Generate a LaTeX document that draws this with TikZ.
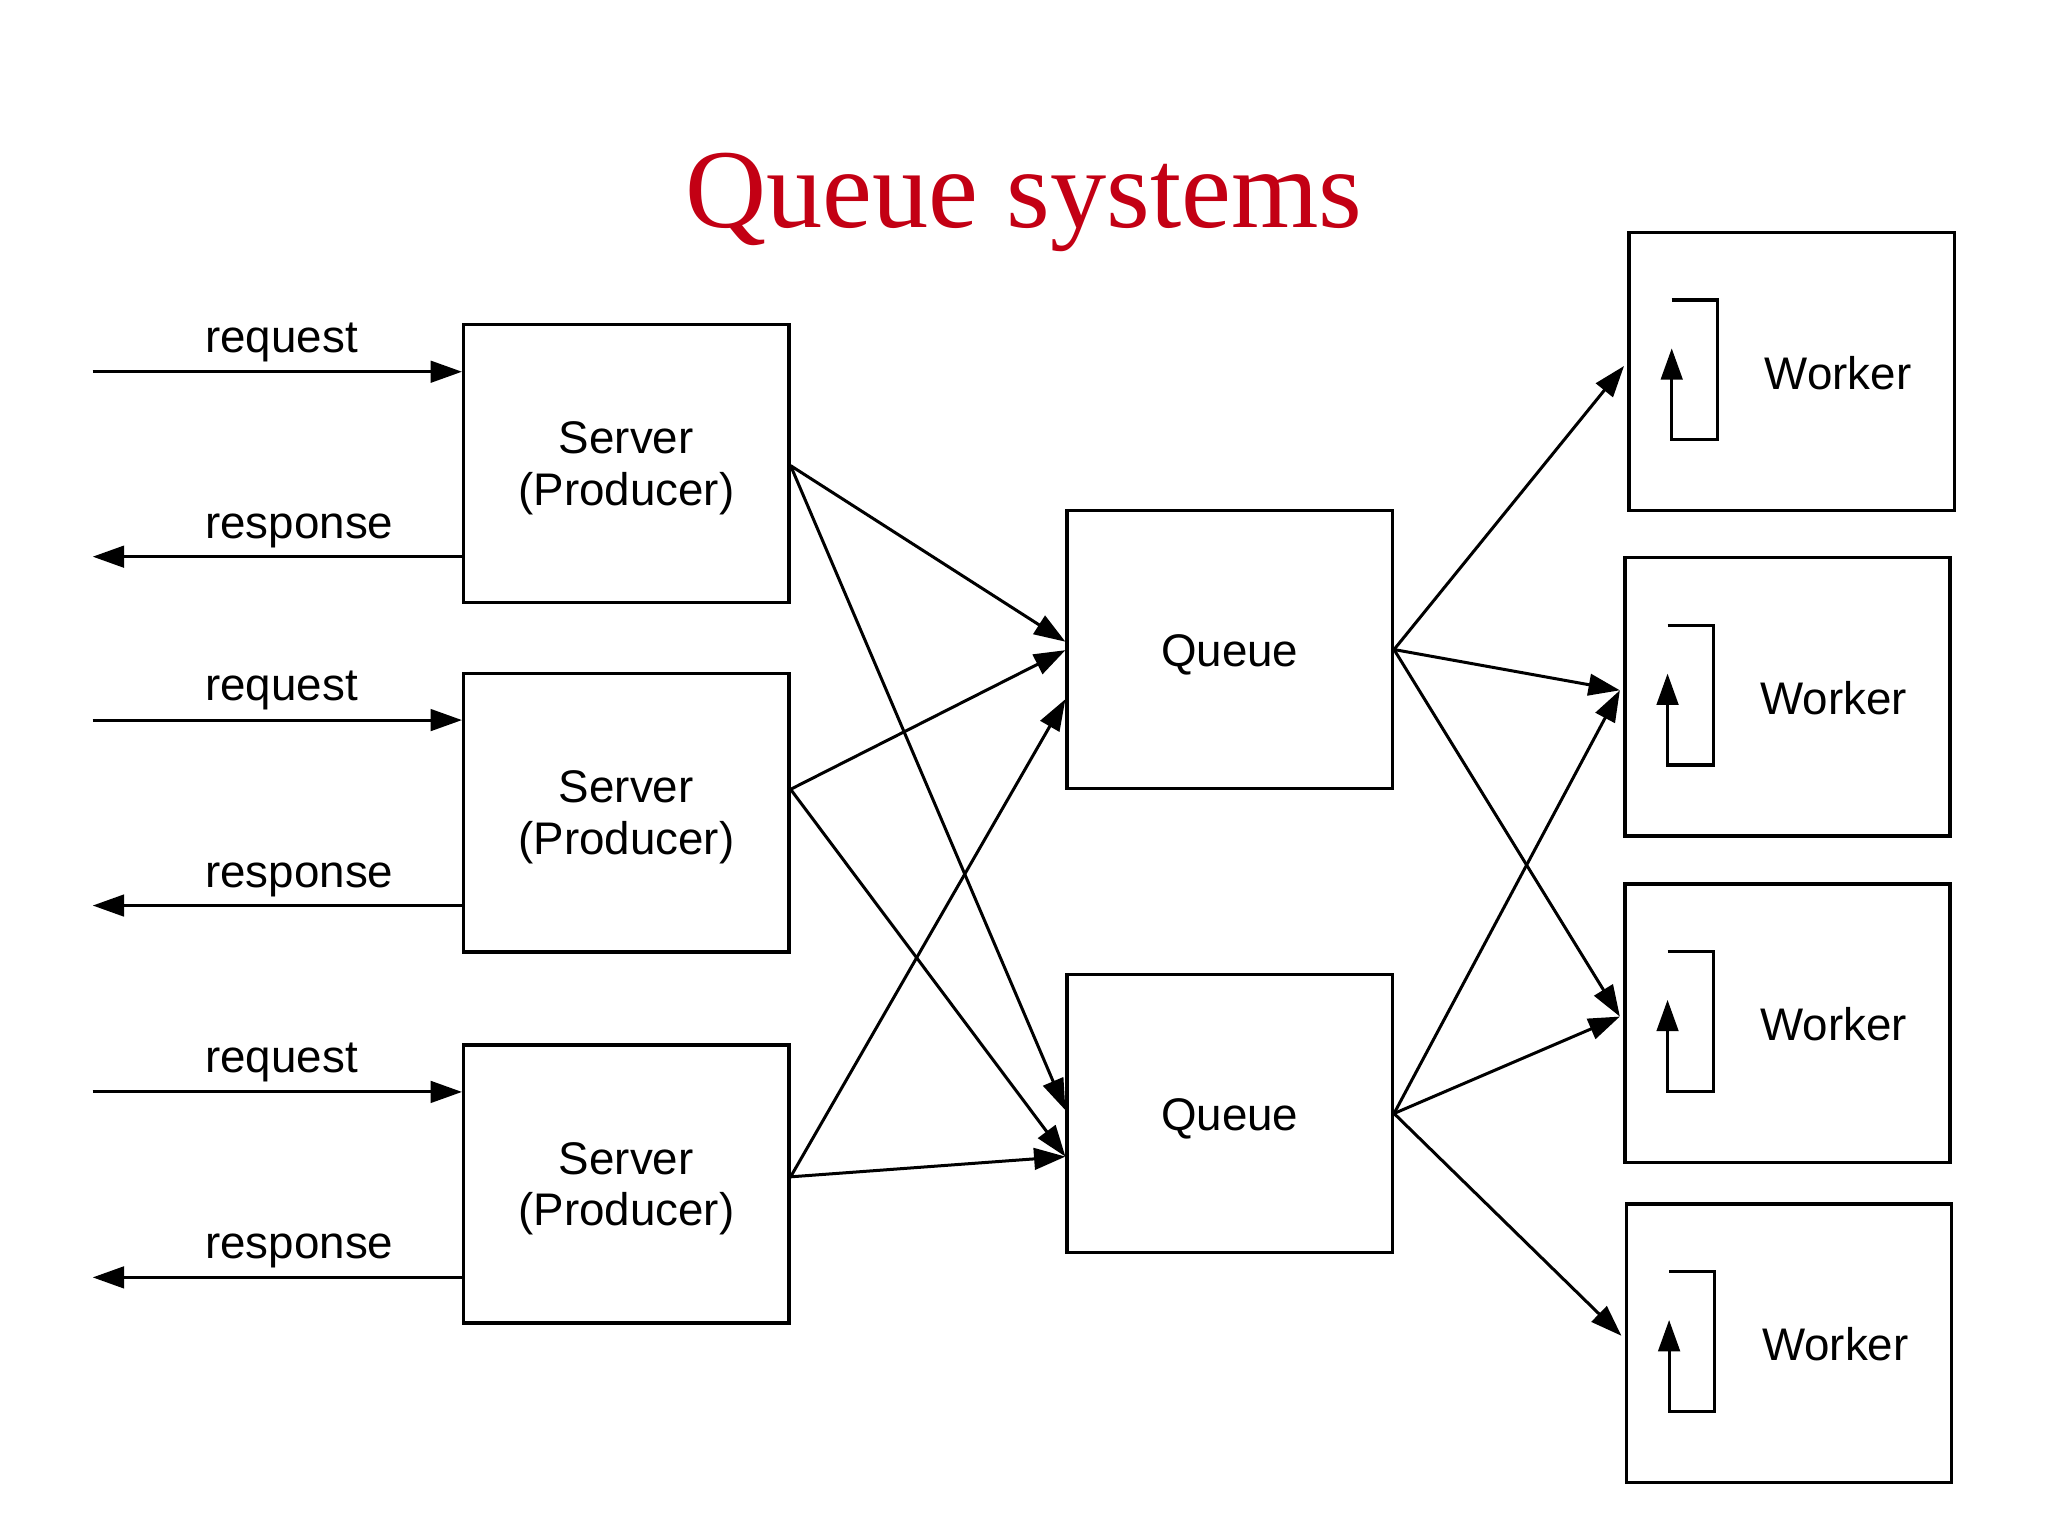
\documentclass[tikz,border=0pt]{standalone}
\usepackage{fontspec}
\setmainfont{Liberation Sans}
\newfontfamily\titlefont{Liberation Serif}
\usetikzlibrary{arrows.meta,calc}
\definecolor{titlered}{RGB}{195,0,20}
\begin{document}
\begin{tikzpicture}[x=1pt,y=-1pt,
  box/.style={draw,line width=2.6pt,minimum width=249pt,minimum height=213pt,inner sep=0pt},
  lbl/.style={font=\fontsize{35}{39.5}\selectfont,inner sep=0pt,align=center},
  arr/.style={line width=2.3pt,-{Triangle[length=24pt,width=16.5pt]}},
  looparr/.style={line width=2.4pt,-{Triangle[length=24pt,width=16.5pt]}}]
\useasboundingbox (0,0) rectangle (1568,1175);
\fill[white] (0,0) rectangle (1568,1175);

% title
\node[font=\titlefont\fontsize{86}{90}\selectfont,text=titlered,anchor=base,inner sep=0pt] (title) at (784,174) {Queue systems};

% servers
\node[box] (s1) at (479.5,355) {};
\node[box] (s2) at (479.5,622.3) {};
\node[box] (s3) at (479.5,906.5) {};
\node[lbl] (s1t) at ($(s1.center)+(0,3.5)$) {Server\\(Producer)};
\node[lbl] (s2t) at ($(s2.center)+(0,3.5)$) {Server\\(Producer)};
\node[lbl] (s3t) at ($(s3.center)+(0,3.5)$) {Server\\(Producer)};

% queues
\node[box] (q1) at (941.5,497.3) {};
\node[box] (q2) at (941.5,852.5) {};
\node[lbl] (q1t) at ($(q1.center)+(0,4)$) {Queue};
\node[lbl] (q2t) at ($(q2.center)+(0,4)$) {Queue};

% workers
\node[box] (w1) at (1371.7,284.5) {};
\node[box] (w2) at (1368.5,533.5) {};
\node[box] (w3) at (1368.5,783.3) {};
\node[box] (w4) at (1369.7,1028.4) {};
\node[lbl] (w1t) at ($(w1.center)+(35.5,1)$) {Worker};
\node[lbl] (w2t) at ($(w2.center)+(35.5,1)$) {Worker};
\node[lbl] (w3t) at ($(w3.center)+(35.5,1)$) {Worker};
\node[lbl] (w4t) at ($(w4.center)+(35.5,1)$) {Worker};

\foreach \w in {w1,w2,w3,w4}{
  \draw[looparr] ($(\w.north west)+(34,53)$) -- ($(\w.north west)+(69,53)$)
     -- ($(\w.north west)+(69,160)$) -- ($(\w.north west)+(34,160)$)
     -- ($(\w.north west)+(34,90)$);
}

% request / response
\coordinate (req1) at (71,284.6);
\coordinate (res1) at (71,426.2);
\coordinate (req2) at (71,551.3);
\coordinate (res2) at (71,693.3);
\coordinate (req3) at (71,836);
\coordinate (res3) at (71,978);
\draw[arr] (req1) -- (req1 -| s1.west);
\draw[arr] (res1 -| s1.west) -- (res1);
\draw[arr] (req2) -- (req2 -| s2.west);
\draw[arr] (res2 -| s2.west) -- (res2);
\draw[arr] (req3) -- (req3 -| s3.west);
\draw[arr] (res3 -| s3.west) -- (res3);
\node[lbl,anchor=base west] (lq1) at (157,269.5) {request};
\node[lbl,anchor=base west] (lp1) at (157,412) {response};
\node[lbl,anchor=base west] (lq2) at (157,536.2) {request};
\node[lbl,anchor=base west] (lp2) at (157,679.2) {response};
\node[lbl,anchor=base west] (lq3) at (157,820.9) {request};
\node[lbl,anchor=base west] (lp3) at (157,963.9) {response};

% server -> queue
\coordinate (s1o) at ([yshift=-1.5pt]s1.east);
\coordinate (s2o) at ([yshift=18pt]s2.east);
\coordinate (s3o) at ([yshift=5.5pt]s3.east);
\draw[arr] (s1o) -- ([yshift=6pt]q1.west);
\draw[arr] (s1o) -- ([yshift=2.5pt]q2.west);
\draw[arr] (s2o) -- ([yshift=-0.5pt]q1.west);
\draw[arr] (s2o) -- ([yshift=-33pt]q2.west);
\draw[arr] (s3o) -- ([yshift=-38pt]q1.west);
\draw[arr] (s3o) -- ([yshift=-33pt]q2.west);

% queue -> worker
\coordinate (w1in) at ([xshift=-2.5pt,yshift=4.3pt]w1.west);
\coordinate (w2in) at ([xshift=-2.5pt,yshift=5pt]w2.west);
\coordinate (w3in) at ([xshift=-2.5pt,yshift=5pt]w3.west);
\coordinate (w4in) at ([xshift=-2.5pt,yshift=5.7pt]w4.west);
\draw[arr] (q1.east) -- (w1in);
\draw[arr] (q1.east) -- (w2in);
\draw[arr] (q1.east) -- (w3in);
\draw[arr] (q2.east) -- (w2in);
\draw[arr] (q2.east) -- (w3in);
\draw[arr] (q2.east) -- (w4in);
\end{tikzpicture}
\end{document}
